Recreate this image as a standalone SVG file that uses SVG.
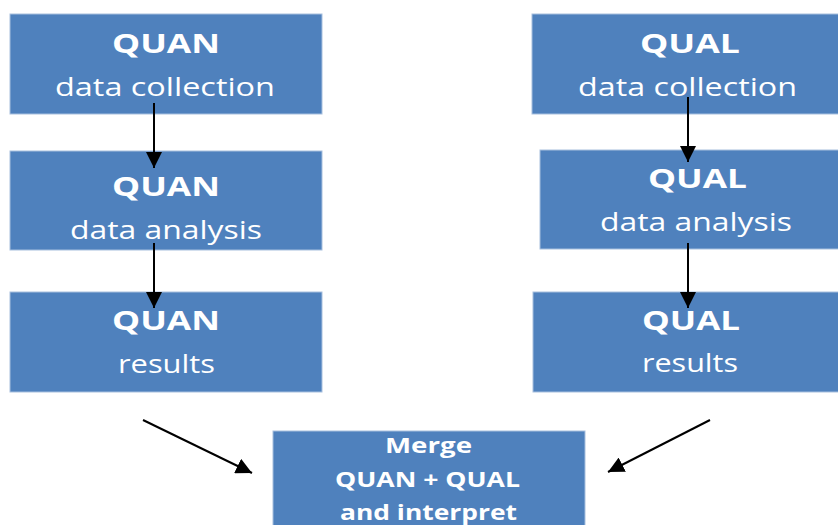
<svg xmlns="http://www.w3.org/2000/svg" width="838" height="525" viewBox="0 0 838 525">
  <style>
    .box { fill: #4F81BD; stroke: #A7BFDE; stroke-width: 1; }
    .t { font-family: "Open Sans", "DejaVu Sans", sans-serif; fill: #FFFFFF; text-anchor: start; }
    .h { font-weight: bold; font-size: 27px; }
    .s { font-size: 25px; }
    .m { font-weight: bold; font-size: 21px; }
    .conn { stroke: #000000; stroke-width: 2; fill: none; marker-end: url(#arrow); }
  </style>
  <defs>
    <marker id="arrow" viewBox="0 0 10 10" refX="10" refY="5" markerWidth="16" markerHeight="16" markerUnits="userSpaceOnUse" orient="auto">
      <path d="M0,0 L10,5 L0,10 z" fill="#000000"/>
    </marker>
  </defs>

  <rect width="838" height="525" fill="#FFFFFF"/>

  <g id="quan-collection">
    <rect class="box" x="10" y="14" width="312" height="100"/>
    <text class="t h" x="112" y="53" textLength="108" lengthAdjust="spacingAndGlyphs">QUAN</text>
    <text class="t s" x="55" y="96" textLength="220" lengthAdjust="spacingAndGlyphs">data collection</text>
  </g>

  <g id="quan-analysis">
    <rect class="box" x="10" y="151" width="312" height="99"/>
    <text class="t h" x="112" y="196" textLength="108" lengthAdjust="spacingAndGlyphs">QUAN</text>
    <text class="t s" x="70" y="239" textLength="192" lengthAdjust="spacingAndGlyphs">data analysis</text>
  </g>

  <g id="quan-results">
    <rect class="box" x="10" y="292" width="312" height="100"/>
    <text class="t h" x="112" y="330" textLength="108" lengthAdjust="spacingAndGlyphs">QUAN</text>
    <text class="t s" x="118" y="373" textLength="97" lengthAdjust="spacingAndGlyphs">results</text>
  </g>

  <g id="qual-collection">
    <rect class="box" x="532" y="14" width="310" height="100"/>
    <text class="t h" x="640" y="53" textLength="100" lengthAdjust="spacingAndGlyphs">QUAL</text>
    <text class="t s" x="578" y="96" textLength="219" lengthAdjust="spacingAndGlyphs">data collection</text>
  </g>

  <g id="qual-analysis">
    <rect class="box" x="540" y="150" width="302" height="99"/>
    <text class="t h" x="648" y="188" textLength="99" lengthAdjust="spacingAndGlyphs">QUAL</text>
    <text class="t s" x="600" y="231" textLength="192" lengthAdjust="spacingAndGlyphs">data analysis</text>
  </g>

  <g id="qual-results">
    <rect class="box" x="533" y="292" width="309" height="100"/>
    <text class="t h" x="642" y="330" textLength="98" lengthAdjust="spacingAndGlyphs">QUAL</text>
    <text class="t s" x="642" y="372" textLength="96" lengthAdjust="spacingAndGlyphs">results</text>
  </g>

  <g id="merge">
    <rect class="box" x="273" y="431" width="312" height="100"/>
    <text class="t m" x="385" y="453" textLength="87" lengthAdjust="spacingAndGlyphs">Merge</text>
    <text class="t m" x="335" y="487" textLength="185" lengthAdjust="spacingAndGlyphs">QUAN + QUAL</text>
    <text class="t m" x="340" y="520" textLength="177" lengthAdjust="spacingAndGlyphs">and interpret</text>
  </g>

  <g id="connectors">
    <line class="conn" x1="154" y1="103" x2="154" y2="168"/>
    <line class="conn" x1="154" y1="243" x2="154" y2="308"/>
    <line class="conn" x1="688" y1="97" x2="688" y2="162"/>
    <line class="conn" x1="688" y1="243" x2="688" y2="308"/>
    <line class="conn" x1="143" y1="420" x2="252" y2="473"/>
    <line class="conn" x1="710" y1="420" x2="608" y2="472"/>
  </g>
</svg>
